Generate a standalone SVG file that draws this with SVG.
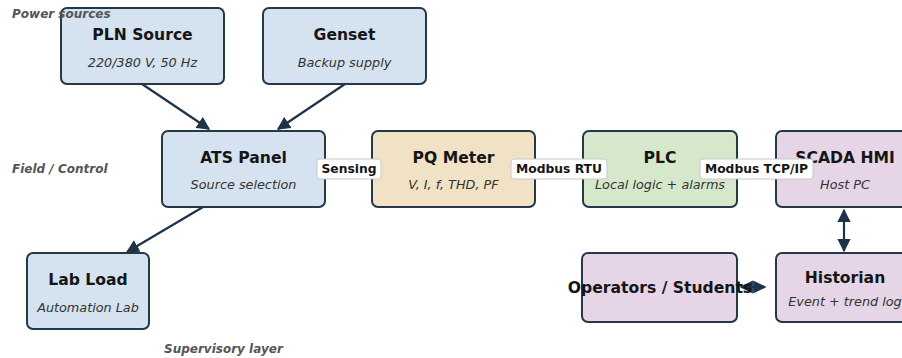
<svg xmlns="http://www.w3.org/2000/svg" width="902" height="358" viewBox="0 0 902 358">
<style>
.n{stroke:#263747;stroke-width:2}
.blue{fill:#d5e2ef}.tan{fill:#f1e2c6}.green{fill:#d6e8cb}.purple{fill:#e6d5e6}
.t{font-family:"DejaVu Sans",sans-serif;font-weight:bold;font-size:15.6px;fill:#151515;text-anchor:middle}
.s{font-family:"DejaVu Sans",sans-serif;font-style:italic;font-size:12.8px;fill:#333;text-anchor:middle}
.layer{font-family:"DejaVu Sans",sans-serif;font-style:italic;font-weight:bold;font-size:12px;fill:#555}
.e{stroke:#1e3347;stroke-width:2.2;fill:none}
.lb{fill:#fff;stroke:#c8c8c8;stroke-width:1}
.lt{font-family:"DejaVu Sans",sans-serif;font-weight:bold;font-size:12.3px;fill:#151515;text-anchor:middle}
</style>
<defs>
<marker id="ah" viewBox="0 0 10 10" refX="9" refY="5" markerWidth="6" markerHeight="6" orient="auto-start-reverse" markerUnits="strokeWidth"><path d="M0,0 L10,5 L0,10 z" fill="#1e3347"/></marker>
</defs>
<rect width="902" height="358" fill="#fff"/>
<g id="connectors">
<line class="e" x1="142" y1="84" x2="209" y2="129" marker-end="url(#ah)"/>
<line class="e" x1="345" y1="84" x2="278" y2="129" marker-end="url(#ah)"/>
<line class="e" x1="203" y1="207" x2="127" y2="252" marker-end="url(#ah)"/>
<line class="e" x1="325" y1="168" x2="372" y2="168"/>
<line class="e" x1="535" y1="168" x2="583" y2="168"/>
<line class="e" x1="737" y1="168" x2="776" y2="168"/>
<line class="e" x1="844" y1="210" x2="844" y2="251" marker-start="url(#ah)" marker-end="url(#ah)"/>
<line class="e" x1="741" y1="287" x2="765" y2="287" marker-start="url(#ah)" marker-end="url(#ah)"/>
</g>
<g id="pln"><rect class="n blue" x="61" y="8" width="163" height="76" rx="6"/><text class="t" x="142.5" y="40">PLN Source</text><text class="s" x="142.5" y="67">220/380 V, 50 Hz</text></g>
<g id="genset"><rect class="n blue" x="263" y="8" width="163" height="76" rx="6"/><text class="t" x="344.5" y="40">Genset</text><text class="s" x="344.5" y="67">Backup supply</text></g>
<g id="ats"><rect class="n blue" x="162" y="131" width="163" height="76" rx="6"/><text class="t" x="243.5" y="163">ATS Panel</text><text class="s" x="243.5" y="189">Source selection</text></g>
<g id="pq"><rect class="n tan" x="372" y="131" width="163" height="76" rx="6"/><text class="t" x="453.5" y="163">PQ Meter</text><text class="s" x="453.5" y="189">V, I, f, THD, PF</text></g>
<g id="plc"><rect class="n green" x="583" y="131" width="154" height="76" rx="6"/><text class="t" x="660" y="163">PLC</text><text class="s" x="660" y="189">Local logic + alarms</text></g>
<g id="scada"><rect class="n purple" x="776" y="131" width="138" height="76" rx="6"/><text class="t" x="845" y="163">SCADA HMI</text><text class="s" x="845" y="189">Host PC</text></g>
<g id="lab"><rect class="n blue" x="27" y="253" width="122" height="76" rx="6"/><text class="t" x="88" y="285">Lab Load</text><text class="s" x="88" y="312">Automation Lab</text></g>
<g id="operators"><rect class="n purple" x="582" y="253" width="155" height="69" rx="6"/><text class="t" x="660" y="293">Operators / Students</text></g>
<g id="historian"><rect class="n purple" x="776" y="253" width="138" height="69" rx="6"/><text class="t" x="845" y="283">Historian</text><text class="s" x="845" y="306">Event + trend log</text></g>
<g id="edge-labels">
<rect class="lb" x="317" y="159" width="64" height="20" rx="3"/><text class="lt" x="349" y="173">Sensing</text>
<rect class="lb" x="511" y="159" width="96" height="20" rx="3"/><text class="lt" x="559" y="173">Modbus RTU</text>
<rect class="lb" x="700" y="159" width="113" height="20" rx="3"/><text class="lt" x="756.5" y="173">Modbus TCP/IP</text>
</g>
<g id="layers">
<text class="layer" x="12" y="18">Power sources</text>
<text class="layer" x="12" y="173">Field / Control</text>
<text class="layer" x="164" y="353">Supervisory layer</text>
</g>
</svg>
